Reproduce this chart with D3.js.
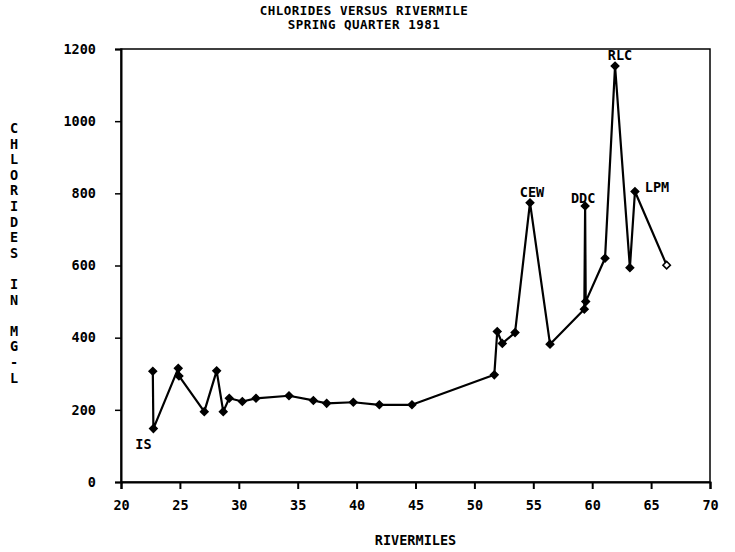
<!DOCTYPE html>
<html>
<head>
<meta charset="utf-8">
<script src="https://cdn.jsdelivr.net/npm/d3@7"></script>
<style>
  html, body { margin: 0; padding: 0; background: #fff; }
  svg text { font-family: "DejaVu Sans Mono", "Liberation Mono", monospace; font-weight: bold; fill: #000; }
</style>
</head>
<body>
<svg id="chart" width="735" height="552"></svg>
<script>
// ---- data ----
const riverMiles = [22.7, 22.75, 24.86, 24.92, 27.07, 28.12, 28.68, 29.19, 30.3, 31.46,
  34.26, 36.33, 37.46, 39.72, 41.93, 44.7, 51.69, 51.94, 52.37, 53.45,
  54.72, 56.42, 59.33, 59.4, 59.45, 61.09, 61.94, 63.2, 63.63, 66.32];
const chlorides = [307, 148, 315, 294, 195, 308, 195, 232, 223, 232,
  239, 226, 218, 221, 214, 214, 297, 417, 384, 414,
  774, 382, 479, 765, 500, 620, 1153, 594, 805, 601];
const siteNames = ["IS", "CEW", "DDC", "RLC", "LPM"];
const sitePointIndex = [1, 20, 23, 26, 28];
const xTicks = [20, 25, 30, 35, 40, 45, 50, 55, 60, 65, 70];
const yTicks = [0, 200, 400, 600, 800, 1000, 1200];
const titleLines = ["CHLORIDES VERSUS RIVERMILE", "SPRING QUARTER 1981"];
const xTitle = "RIVERMILES";
const yTitle = ["C","H","L","O","R","I","D","E","S"," ","I","N"," ","M","G","-","L"];

// ---- layout ----
const pL = 121, pR = 710, pT = 49, pB = 482;
const svg = d3.select("#chart");
const x = d3.scaleLinear().domain([20, 70]).range([pL, pR]);
const y = d3.scaleLinear().domain([0, 1200]).range([pB, pT]);

// frame
svg.append("rect").attr("x", pL).attr("y", pT)
  .attr("width", pR - pL).attr("height", pB - pT)
  .attr("fill", "none").attr("stroke", "#000").attr("stroke-width", 1.5);

// x axis
const xAxis = d3.axisBottom(x).tickValues(xTicks).tickSize(7).tickPadding(11)
  .tickFormat(d3.format("d"));
const gx = svg.append("g").attr("transform", `translate(0,${pB})`).call(xAxis);
gx.select(".domain").attr("stroke-width", 2);
gx.selectAll(".tick line").attr("stroke-width", 2);
gx.selectAll("text").style("font-size", "13.5px");

// y axis
const yAxis = d3.axisLeft(y).tickValues(yTicks).tickSize(6).tickPadding(19)
  .tickFormat(d3.format("d"));
const gy = svg.append("g").attr("transform", `translate(${pL},0)`).call(yAxis);
gy.select(".domain").attr("stroke-width", 2);
gy.selectAll(".tick line").attr("stroke-width", 1.5);
gy.selectAll("text").style("font-size", "13.5px");

// titles
svg.selectAll("text.title").data(titleLines).enter().append("text")
  .attr("class", "title")
  .attr("x", 364).attr("y", (d, i) => 15 + i * 14)
  .attr("text-anchor", "middle").style("font-size", "12.5px")
  .style("letter-spacing", "0.5px")
  .text(d => d);

svg.append("text").attr("x", (pL + pR) / 2).attr("y", 545)
  .attr("text-anchor", "middle").style("font-size", "13.5px").text(xTitle);

svg.selectAll("text.ytitle").data(yTitle).enter().append("text")
  .attr("class", "ytitle")
  .attr("x", 14).attr("y", (d, i) => 133 + i * 15.6)
  .attr("text-anchor", "middle").style("font-size", "13.5px")
  .text(d => d);

// line
const pts = riverMiles.map((m, i) => ({ m, v: chlorides[i] }));
const line = d3.line().x(d => x(d.m)).y(d => y(d.v));
svg.append("path").datum(pts).attr("d", line)
  .attr("fill", "none").attr("stroke", "#000").attr("stroke-width", 2.2)
  .attr("stroke-linejoin", "round");

// markers
const diamond = d3.symbol().type(d3.symbolDiamond2).size(36);
svg.selectAll("path.pt").data(pts).enter().append("path")
  .attr("class", "pt")
  .attr("transform", d => `translate(${x(d.m)},${y(d.v)})`)
  .attr("d", diamond)
  .attr("fill", (d, i) => i === pts.length - 1 ? "#fff" : "#000")
  .attr("stroke", "#000").attr("stroke-width", 1.5);

// site labels
const labelOffsets = { "IS": [-10, 20], "CEW": [2, -6], "DDC": [-2, -3], "RLC": [5, -6], "LPM": [22, 0] };
siteNames.forEach((name, k) => {
  const p = pts[sitePointIndex[k]];
  const o = labelOffsets[name];
  svg.append("text")
    .attr("x", x(p.m) + o[0]).attr("y", y(p.v) + o[1])
    .attr("text-anchor", "middle").style("font-size", "13.5px")
    .text(name);
});
</script>
</body>
</html>
